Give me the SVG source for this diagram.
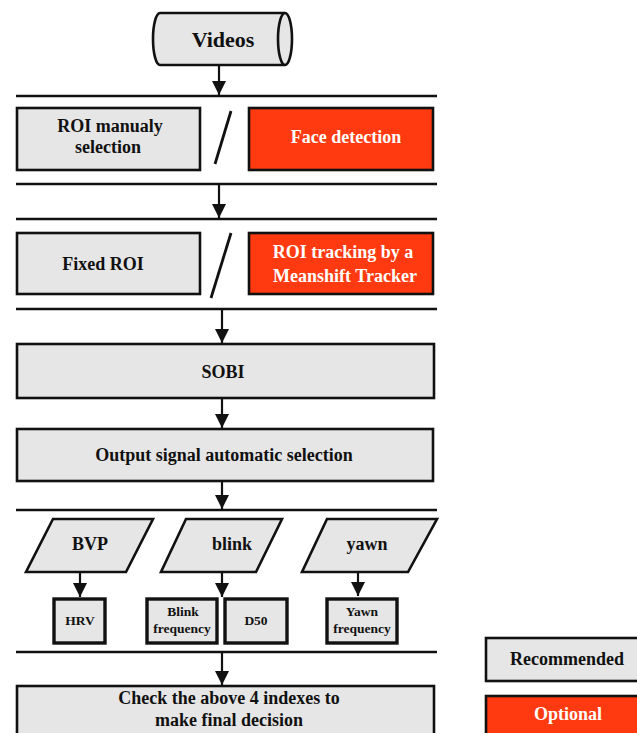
<svg xmlns="http://www.w3.org/2000/svg" width="637" height="733" viewBox="0 0 637 733">
<style>
text{font-family:"Liberation Serif","Times New Roman",serif;font-weight:bold;text-anchor:middle;fill:#111}
.t{font-size:18px}
.s{font-size:13.5px}
.w{fill:#fff}
.g{fill:#e6e6e6;stroke:#111;stroke-width:2.6}
.r{fill:#ff3a10;stroke:#111;stroke-width:2.6}
.sm{fill:#e6e6e6;stroke:#111;stroke-width:3.4}
.sep{stroke:#111;stroke-width:2.4;fill:none}
.sl{stroke:#111;stroke-width:2.8;fill:none}
.ar{stroke:#111;stroke-width:2.2;fill:none}
</style>
<defs>
<marker id="ah" markerWidth="14" markerHeight="14" viewBox="0 0 14 14" refX="14" refY="7" orient="auto" markerUnits="userSpaceOnUse">
<path d="M0,0 L14,7 L0,14 Z" fill="#111"/>
</marker>
</defs>
<rect width="637" height="733" fill="#fff"/>
<g id="separators">
<line class="sep" x1="16" y1="96" x2="437" y2="96"/>
<line class="sep" x1="16" y1="184" x2="437" y2="184"/>
<line class="sep" x1="16" y1="219" x2="437" y2="219"/>
<line class="sep" x1="16" y1="309" x2="437" y2="309"/>
<line class="sep" x1="16" y1="510" x2="437" y2="510"/>
<line class="sep" x1="16" y1="652" x2="437" y2="652"/>
<line class="sl" x1="231" y1="111" x2="215" y2="164"/>
<line class="sl" x1="231" y1="233" x2="211" y2="298"/>
</g>
<g id="connectors">
<line class="ar" x1="219" y1="65" x2="219" y2="95" marker-end="url(#ah)"/>
<line class="ar" x1="219" y1="184" x2="219" y2="218" marker-end="url(#ah)"/>
<line class="ar" x1="222" y1="309" x2="222" y2="343" marker-end="url(#ah)"/>
<line class="ar" x1="222" y1="398" x2="222" y2="428" marker-end="url(#ah)"/>
<line class="ar" x1="222" y1="481" x2="222" y2="509" marker-end="url(#ah)"/>
<line class="ar" x1="80" y1="572" x2="80" y2="597" marker-end="url(#ah)"/>
<line class="ar" x1="222" y1="572" x2="222" y2="597" marker-end="url(#ah)"/>
<line class="ar" x1="358" y1="572" x2="358" y2="596" marker-end="url(#ah)"/>
<line class="ar" x1="222" y1="652" x2="222" y2="685" marker-end="url(#ah)"/>
</g>
<g id="videos">
<path class="g" d="M160,13 L285,13 A7,26 0 0 1 285,65 L160,65 A7,26 0 0 1 160,13 Z"/>
<path class="g" d="M285,13 A7,26 0 0 0 285,65"/>
<text x="223" y="47" style="font-size:22px">Videos</text>
</g>
<g id="roi-manual">
<rect class="g" x="17" y="108" width="183" height="62"/>
<text class="t" x="110" y="132">ROI manualy</text>
<text class="t" x="108" y="153">selection</text>
</g>
<g id="face-detection">
<rect class="r" x="249" y="108" width="184" height="62"/>
<text class="t w" x="346" y="143">Face detection</text>
</g>
<g id="fixed-roi">
<rect class="g" x="17" y="233" width="183" height="61"/>
<text class="t" x="103" y="270">Fixed ROI</text>
</g>
<g id="roi-tracking">
<rect class="r" x="249" y="233" width="184" height="61"/>
<text class="t w" x="343" y="258">ROI tracking by a</text>
<text class="t w" x="345" y="282">Meanshift Tracker</text>
</g>
<g id="sobi">
<rect class="g" x="17" y="344" width="417" height="54"/>
<text class="t" x="223" y="378">SOBI</text>
</g>
<g id="output-selection">
<rect class="g" x="17" y="429" width="416" height="52"/>
<text class="t" x="224" y="461">Output signal automatic selection</text>
</g>
<g id="bvp">
<path class="g" d="M53,519 L153,519 L126,572 L26,572 Z"/>
<text class="t" x="90" y="550">BVP</text>
</g>
<g id="blink">
<path class="g" d="M186,519 L282,519 L256,572 L161,572 Z"/>
<text class="t" x="232" y="550">blink</text>
</g>
<g id="yawn">
<path class="g" d="M327,519 L437,519 L408,572 L302,572 Z"/>
<text class="t" x="367" y="550">yawn</text>
</g>
<g id="hrv">
<rect class="sm" x="54" y="599" width="51" height="44"/>
<text class="s" x="80" y="625">HRV</text>
</g>
<g id="blink-frequency">
<rect class="sm" x="147" y="599" width="70" height="44"/>
<text class="s" x="183" y="616">Blink</text>
<text class="s" x="182" y="633">frequency</text>
</g>
<g id="d50">
<rect class="sm" x="225" y="599" width="62" height="44"/>
<text class="s" x="256" y="625">D50</text>
</g>
<g id="yawn-frequency">
<rect class="sm" x="327" y="599" width="70" height="44"/>
<text class="s" x="362" y="616">Yawn</text>
<text class="s" x="362" y="633">frequency</text>
</g>
<g id="final-decision">
<rect class="g" x="17" y="686" width="417" height="60"/>
<text class="t" x="229" y="704">Check the above 4 indexes to</text>
<text class="t" x="229" y="726">make final decision</text>
</g>
<g id="legend-recommended">
<rect class="g" x="486" y="638" width="160" height="43"/>
<text class="t" x="567" y="665">Recommended</text>
</g>
<g id="legend-optional">
<rect class="r" x="486" y="696" width="160" height="50"/>
<text class="t w" x="568" y="720">Optional</text>
</g>
</svg>
